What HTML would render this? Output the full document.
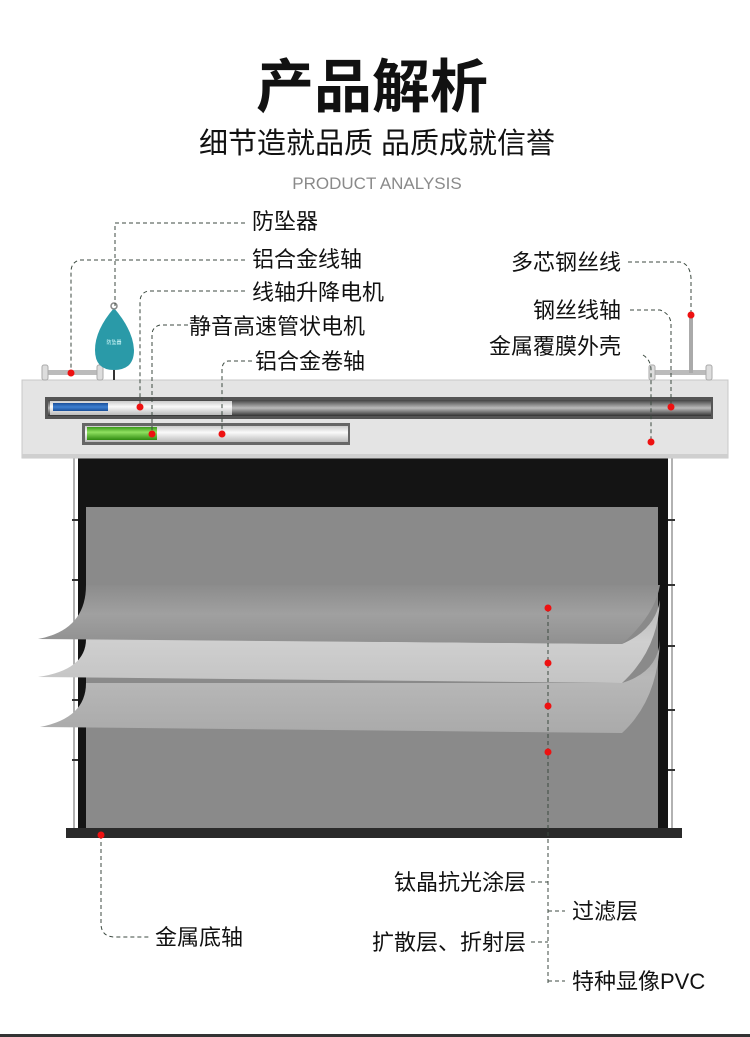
<!DOCTYPE html>
<html><head><meta charset="utf-8"><style>
html,body{margin:0;padding:0;background:#fff;}
body{width:750px;height:1037px;overflow:hidden;position:relative;}
svg{position:absolute;left:0;top:0;}
text{font-family:"Liberation Sans","Noto Sans CJK SC",sans-serif;fill:#111;}
</style></head><body>
<svg width="750" height="1037" viewBox="0 0 750 1037" xmlns="http://www.w3.org/2000/svg">
<defs>
<linearGradient id="tube" x1="0" y1="0" x2="0" y2="1">
<stop offset="0" stop-color="#444"/><stop offset="0.5" stop-color="#bbb"/><stop offset="1" stop-color="#333"/></linearGradient>
<linearGradient id="wt" x1="0" y1="0" x2="0" y2="1">
<stop offset="0" stop-color="#ccc"/><stop offset="0.4" stop-color="#fafafa"/><stop offset="1" stop-color="#bbb"/></linearGradient>
<linearGradient id="gr" x1="0" y1="0" x2="0" y2="1">
<stop offset="0" stop-color="#3a9a1a"/><stop offset="0.4" stop-color="#8fe060"/><stop offset="1" stop-color="#2f8a10"/></linearGradient>
<linearGradient id="bl" x1="0" y1="0" x2="0" y2="1">
<stop offset="0" stop-color="#1a4f9a"/><stop offset="0.5" stop-color="#3d7fd0"/><stop offset="1" stop-color="#1a4f9a"/></linearGradient>
<linearGradient id="s1" x1="0" y1="0" x2="0" y2="1">
<stop offset="0" stop-color="#8c8c8c"/><stop offset="0.5" stop-color="#a0a0a0"/><stop offset="1" stop-color="#909090"/></linearGradient>
<linearGradient id="s2" x1="0" y1="0" x2="0" y2="1">
<stop offset="0" stop-color="#b5b5b5"/><stop offset="0.5" stop-color="#cfcfcf"/><stop offset="1" stop-color="#c4c4c4"/></linearGradient>
<linearGradient id="s3" x1="0" y1="0" x2="0" y2="1">
<stop offset="0" stop-color="#a4a4a4"/><stop offset="0.4" stop-color="#b8b8b8"/><stop offset="1" stop-color="#aaaaaa"/></linearGradient>
</defs>

<!-- titles -->
<text x="372" y="107" font-size="58" font-weight="bold" text-anchor="middle">产品解析</text>
<text x="377" y="153" font-size="29" text-anchor="middle">细节造就品质 品质成就信誉</text>
<text x="377" y="189" font-size="17" text-anchor="middle" style="fill:#8a8a8a">PRODUCT ANALYSIS</text>

<!-- screen -->
<line x1="74" y1="457" x2="74" y2="830" stroke="#999" stroke-width="1.5"/>
<line x1="672" y1="457" x2="672" y2="830" stroke="#999" stroke-width="1.5"/>
<g stroke="#333" stroke-width="2">
<line x1="72" y1="520" x2="78" y2="520"/><line x1="72" y1="580" x2="78" y2="580"/><line x1="72" y1="636" x2="78" y2="636"/><line x1="72" y1="700" x2="78" y2="700"/><line x1="72" y1="760" x2="78" y2="760"/>
<line x1="668" y1="520" x2="675" y2="520"/><line x1="668" y1="585" x2="675" y2="585"/><line x1="668" y1="646" x2="675" y2="646"/><line x1="668" y1="710" x2="675" y2="710"/><line x1="668" y1="770" x2="675" y2="770"/>
</g>
<rect x="78" y="457" width="590" height="375" fill="#141414"/>
<rect x="86" y="507" width="572" height="322" fill="#8a8a8a"/>
<rect x="66" y="828" width="616" height="10" fill="#2a2a2a"/>
<!-- sheets -->
<path d="M86 683 Q86 718 40 727 L622 733 Q658 700 660 640 Q658 672 622 683 Z" fill="url(#s3)"/>
<path d="M86 639 Q86 670 38 677 L622 683 Q658 650 660 600 Q655 630 622 644 Z" fill="url(#s2)"/>
<path d="M86 585 Q86 630 38 639 L622 644 Q655 615 660 585 Z" fill="url(#s1)"/>

<!-- housing -->
<rect x="22" y="380" width="706" height="78" fill="#e4e4e4" stroke="#c8c8c8"/>
<rect x="22" y="454" width="706" height="4" fill="#cfcfcf"/>
<rect x="45" y="397" width="668" height="22" fill="#555"/>
<rect x="48" y="400" width="663" height="16" fill="url(#tube)"/>
<rect x="50" y="401" width="182" height="14" fill="url(#wt)"/>
<rect x="53" y="403" width="55" height="8" fill="url(#bl)"/>
<rect x="82" y="423" width="268" height="22" fill="#666"/>
<rect x="85" y="426" width="263" height="16" fill="url(#wt)"/>
<rect x="87" y="427" width="70" height="13" fill="url(#gr)"/>

<!-- brackets -->
<rect x="45" y="370" width="55" height="5" fill="#bbb"/>
<rect x="42" y="365" width="6" height="15" rx="2" fill="#ddd" stroke="#aaa"/>
<rect x="97" y="365" width="6" height="15" rx="2" fill="#ddd" stroke="#aaa"/>
<rect x="652" y="370" width="56" height="5" fill="#bbb"/>
<rect x="649" y="365" width="6" height="15" rx="2" fill="#ddd" stroke="#aaa"/>
<rect x="706" y="365" width="6" height="15" rx="2" fill="#ddd" stroke="#aaa"/>
<rect x="689" y="315" width="4" height="58" fill="#aaa"/>
<!-- fall arrester -->
<line x1="114" y1="368" x2="114" y2="380" stroke="#333" stroke-width="2"/>
<path d="M114 308 Q133 330 134 350 Q134 370 114 370 Q95 370 95 350 Q95 330 114 308 Z" fill="#2a9aa8"/>
<circle cx="114" cy="306" r="3" fill="none" stroke="#888" stroke-width="1.5"/>
<text x="114" y="344" font-size="5" text-anchor="middle" style="fill:#dff">防坠器</text>

<!-- connectors -->
<g fill="none" stroke="#3c4a40" stroke-width="1" stroke-dasharray="4,3">
<path d="M245 223 H115 V306"/>
<path d="M245 260 H80 Q71 262 71 272 V373"/>
<path d="M245 291 H148 Q140 293 140 302 V407"/>
<path d="M188 325 H160 Q152 327 152 335 V434"/>
<path d="M252 361 H228 Q222 362 222 370 V434"/>
<path d="M628 262 H680 Q690 264 691 278 V315"/>
<path d="M630 310 H660 Q671 314 671 325 V407"/>
<path d="M643 355 Q651 360 651 370 V442"/>
<path d="M101 835 V925 Q102 937 115 937 H150"/>
<path d="M548 608 V985"/>
<path d="M531 882 H548"/><path d="M548 911 H565"/><path d="M531 942 H548"/><path d="M548 981 H565"/>
</g>
<g fill="#ee1111">
<circle cx="71" cy="373" r="3.5"/><circle cx="140" cy="407" r="3.5"/><circle cx="152" cy="434" r="3.5"/><circle cx="222" cy="434" r="3.5"/>
<circle cx="691" cy="315" r="3.5"/><circle cx="671" cy="407" r="3.5"/><circle cx="651" cy="442" r="3.5"/>
<circle cx="548" cy="608" r="3.5"/><circle cx="548" cy="663" r="3.5"/><circle cx="548" cy="706" r="3.5"/><circle cx="548" cy="752" r="3.5"/>
<circle cx="101" cy="835" r="3.5"/>
</g>

<!-- labels -->
<g font-size="22">
<text x="252" y="229">防坠器</text>
<text x="252" y="267">铝合金线轴</text>
<text x="252" y="300">线轴升降电机</text>
<text x="189" y="334">静音高速管状电机</text>
<text x="255" y="369">铝合金卷轴</text>
<text x="621" y="270" text-anchor="end">多芯钢丝线</text>
<text x="621" y="318" text-anchor="end">钢丝线轴</text>
<text x="621" y="354" text-anchor="end">金属覆膜外壳</text>
<text x="526" y="890" text-anchor="end">钛晶抗光涂层</text>
<text x="572" y="919">过滤层</text>
<text x="526" y="950" text-anchor="end">扩散层、折射层</text>
<text x="572" y="989">特种显像PVC</text>
<text x="155" y="945">金属底轴</text>
</g>
<rect x="0" y="1034" width="750" height="3" fill="#333"/>
</svg>
</body></html>
